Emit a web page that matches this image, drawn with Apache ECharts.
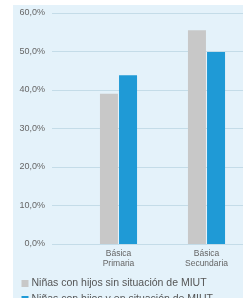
<!DOCTYPE html>
<html>
<head>
<meta charset="utf-8">
<script src="https://cdn.jsdelivr.net/npm/echarts@6/dist/echarts.min.js"></script>
<style>
  html, body { margin: 0; padding: 0; background: #fff; }
  #chart { width: 243px; height: 298px; }
</style>
</head>
<body>
<div id="chart"></div>
<script>
// datos
const categorias = ["Básica\nPrimaria", "Básica\nSecundaria"];
const serieSinMiut = [39.0, 55.5];
const serieConMiut = [43.8, 49.9];
const nombresSeries = ["Niñas con hijos sin situación de MIUT", "Niñas con hijos y en situación de MIUT"];
const ticksY = [0, 10, 20, 30, 40, 50, 60];

const chart = echarts.init(document.getElementById("chart"));

const fmt = v => v.toFixed(1).replace(".", ",") + "%";

// una leyenda por serie, apiladas
const leyenda = (nombre, top) => ({
    left: 21.5, top: top, padding: 0,
    itemWidth: 7, itemHeight: 7,
    icon: "rect",
    textStyle: { color: "#555", fontSize: 10.5, padding: [0, 0, 0, -2] },
    data: [nombre]
});

chart.setOption({
    backgroundColor: "#fff",
    animation: false,
    textStyle: { fontFamily: "Liberation Sans, Arial, sans-serif" },
    graphic: [{
        type: "rect",
        left: 13, top: 5,
        shape: { width: 240, height: 300 },
        style: { fill: "#e4f2fa" },
        z: -10
    }],
    legend: [leyenda(nombresSeries[0], 278), leyenda(nombresSeries[1], 294)],
    grid: [
        { left: 52, right: 0, top: 13, bottom: 54, containLabel: false, outerBoundsMode: "none" },
        { left: 74.5, width: 176, top: 13, bottom: 54, containLabel: false, outerBoundsMode: "none" }
    ],
    xAxis: [
        { gridIndex: 0, type: "category", data: categorias, show: false },
        {
            gridIndex: 1, type: "category", data: categorias,
            axisLine: { show: false }, axisTick: { show: false },
            axisLabel: { color: "#666", fontSize: 8.5, lineHeight: 10, margin: 5 }
        }
    ],
    yAxis: [
        {
            gridIndex: 0, type: "value", min: 0, max: 60, interval: 10,
            axisLine: { show: false }, axisTick: { show: false },
            axisLabel: { color: "#666", fontSize: 9, margin: 7, formatter: v => ticksY.includes(v) ? fmt(v) : "" },
            splitLine: { lineStyle: { color: "#c4dce8", width: 1 } }
        },
        { gridIndex: 1, type: "value", min: 0, max: 60, interval: 10, show: false, splitLine: { show: false } }
    ],
    series: [
        {
            name: nombresSeries[0], type: "bar", xAxisIndex: 1, yAxisIndex: 1,
            data: serieSinMiut, barWidth: 18, barGap: "6%",
            itemStyle: { color: "#c8c8c8" }
        },
        {
            name: nombresSeries[1], type: "bar", xAxisIndex: 1, yAxisIndex: 1,
            data: serieConMiut, barWidth: 18,
            itemStyle: { color: "#1f9ad6" }
        }
    ]
});
</script>
</body>
</html>
